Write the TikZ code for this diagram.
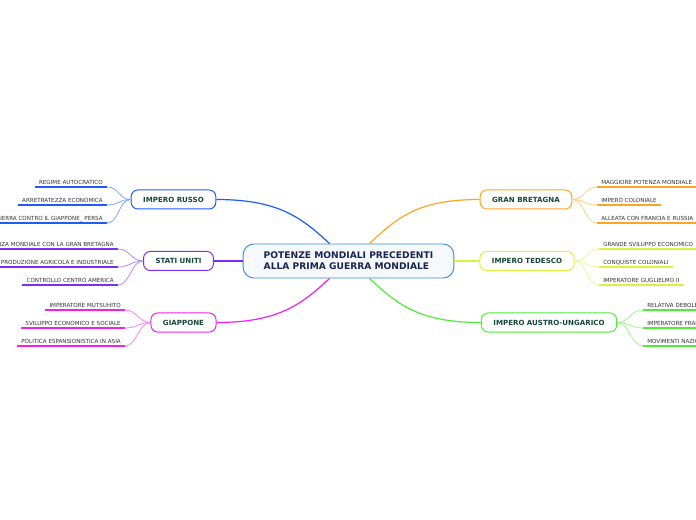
\documentclass[tikz,border=0pt]{standalone}
\usepackage{fontspec}
\setmainfont{DejaVu Sans}
\usetikzlibrary{calc}
\definecolor{russo}{HTML}{1F5BF8}
\definecolor{usa}{HTML}{7B2FF2}
\definecolor{giap}{HTML}{F020F0}
\definecolor{gb}{HTML}{FFA425}
\definecolor{ted}{HTML}{D8F23E}
\definecolor{austro}{HTML}{4FEE34}
\definecolor{mainline}{HTML}{3A8DD6}
\definecolor{mainfill}{HTML}{F5F9FC}
\definecolor{navy}{HTML}{1A2452}
\definecolor{topicgreen}{HTML}{17463A}
\definecolor{leafgray}{HTML}{333333}

\begin{document}
\begin{tikzpicture}[x=0.75pt,y=-0.75pt,
  root/.style={draw=mainline, fill=mainfill, line width=0.7pt, rounded corners=8pt, minimum width=158pt, minimum height=25.5pt, align=left, text=navy, font=\fontsize{6.85}{8.2}\selectfont\bfseries},
  topic/.style={draw=#1, fill=white, line width=0.75pt, rounded corners=5pt, inner xsep=9pt, minimum height=14.25pt, text=topicgreen, font=\fontsize{5.3}{6}\selectfont\bfseries},
  leaf/.style={inner xsep=3pt, inner ysep=1.6pt, text depth=0pt, text=leafgray, font=\fontsize{4.2}{5}\selectfont},
  uline/.style={draw=#1, line width=1.2pt},
  twig/.style={draw=#1!55, line width=0.6pt},
  branch/.style={draw=#1, line width=0.9pt}]
  \fill[white] (0,0) rectangle (696,520);
  \useasboundingbox (0,0) rectangle (696,520);
  \clip (0,0) rectangle (696,520);

  % centre and main topics
  \node[root] (main) at (348.5,261) {POTENZE MONDIALI PRECEDENTI\\ALLA PRIMA GUERRA MONDIALE};
  \node[topic=russo] (russo) at (173.5,199.5) {IMPERO RUSSO};
  \node[topic=usa] (usa) at (178.5,261) {STATI UNITI};
  \node[topic=giap] (giap) at (183.5,322.5) {GIAPPONE};
  \node[topic=gb] (gb) at (526,199.5) {GRAN BRETAGNA};
  \node[topic=ted] (ted) at (527,261) {IMPERO TEDESCO};
  \node[topic=austro] (austro) at (549,322.5) {IMPERO AUSTRO-UNGARICO};

  \draw[branch=russo] (russo.east) .. controls +(62,0) and +(-28,-26) .. ($(main.north)+(-19,0)$);
  \draw[branch=usa] (usa.east) -- (main.west);
  \draw[branch=giap] (giap.east) .. controls +(62,0) and +(-28,26) .. ($(main.south)+(-19,0)$);
  \draw[branch=gb] (gb.west) .. controls +(-62,0) and +(28,-26) .. ($(main.north)+(21,0)$);
  \draw[branch=ted] (ted.west) -- (main.east);
  \draw[branch=austro] (austro.west) .. controls +(-62,0) and +(28,26) .. ($(main.south)+(21,0)$);

  % left leaves
  \node[leaf, anchor=south east] (r1) at (107,187) {REGIME AUTOCRATICO};
  \node[leaf, anchor=south east] (r2) at (107,205) {ARRETRATEZZA ECONOMICA};
  \node[leaf, anchor=south east] (r3) at (107,223) {GUERRA CONTRO IL GIAPPONE\_ PERSA};
  \node[leaf, anchor=south east] (u1) at (118,249) {CONCORRENZA MONDIALE CON LA GRAN BRETAGNA};
  \node[leaf, anchor=south east] (u2) at (118,267) {PRODUZIONE AGRICOLA E INDUSTRIALE};
  \node[leaf, anchor=south east] (u3) at (118,285) {CONTROLLO CENTRO AMERICA};
  \node[leaf, anchor=south east] (g1) at (125,310) {IMPERATORE MUTSUHITO};
  \node[leaf, anchor=south east] (g2) at (125,328) {SVILUPPO ECONOMICO E SOCIALE};
  \node[leaf, anchor=south east] (g3) at (125,346) {POLITICA ESPANSIONISTICA IN ASIA};

  % right leaves
  \node[leaf, anchor=south west] (b1) at (597,187) {MAGGIORE POTENZA MONDIALE};
  \node[leaf, anchor=south west] (b2) at (597,205) {IMPERO COLONIALE};
  \node[leaf, anchor=south west] (b3) at (597,223) {ALLEATA CON FRANCIA E RUSSIA};
  \node[leaf, anchor=south west] (t1) at (599,249) {GRANDE SVILUPPO ECONOMICO};
  \node[leaf, anchor=south west] (t2) at (599,267) {CONQUISTE COLONIALI};
  \node[leaf, anchor=south west] (t3) at (599,285) {IMPERATORE GUGLIELMO II};
  \node[leaf, anchor=south west] (a1) at (643,310) {RELATIVA DEBOLEZZA};
  \node[leaf, anchor=south west] (a2) at (643,328) {IMPERATORE FRANCESCO GIUSEPPE};
  \node[leaf, anchor=south west] (a3) at (643,346) {MOVIMENTI NAZIONALISTI};

  \foreach \l/\c/\t in {r1/russo/russo, r2/russo/russo, r3/russo/russo, u1/usa/usa, u2/usa/usa, u3/usa/usa, g1/giap/giap, g2/giap/giap, g3/giap/giap}{
    \draw[uline=\c] (\l.south west) -- (\l.south east);
    \draw[twig=\c] (\t.west) .. controls +(-12,0) and +(12,0) .. (\l.south east);
  }
  \foreach \l/\c/\t in {b1/gb/gb, b2/gb/gb, b3/gb/gb, t1/ted/ted, t2/ted/ted, t3/ted/ted, a1/austro/austro, a2/austro/austro, a3/austro/austro}{
    \draw[uline=\c] (\l.south west) -- (\l.south east);
    \draw[twig=\c] (\t.east) .. controls +(12,0) and +(-12,0) .. (\l.south west);
  }
\end{tikzpicture}
\end{document}
